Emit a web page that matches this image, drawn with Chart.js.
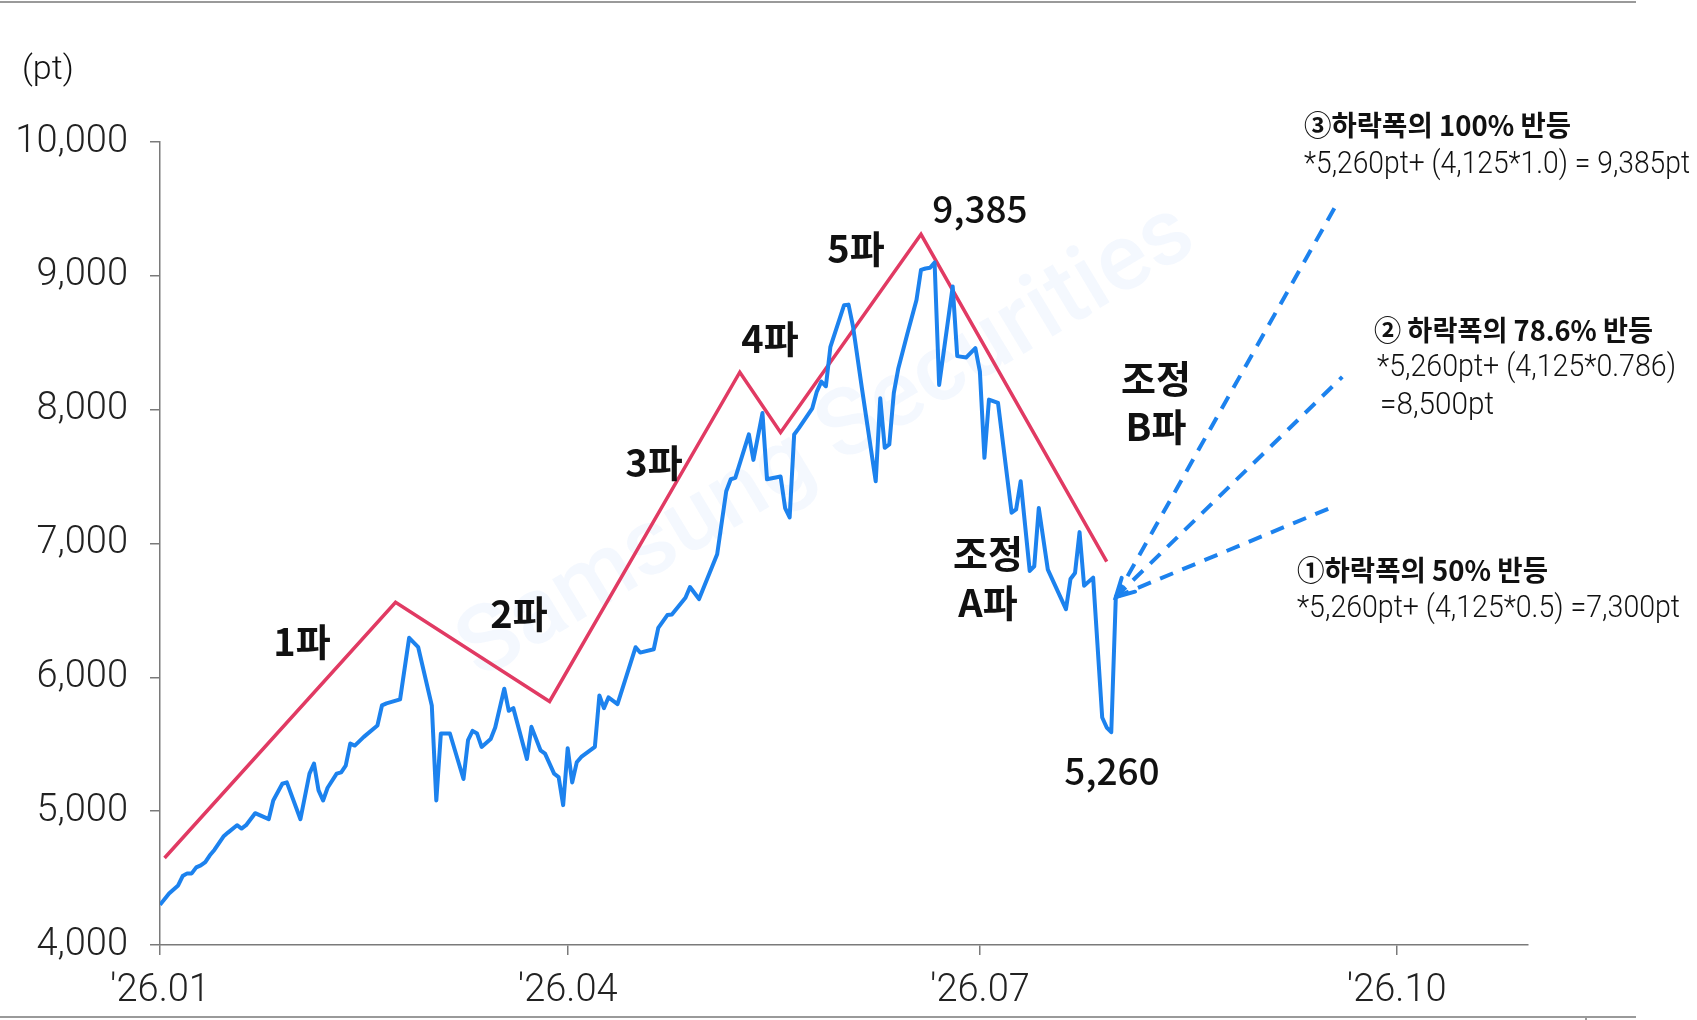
<!DOCTYPE html>
<html>
<head>
<meta charset="utf-8">
<script src="https://cdn.jsdelivr.net/npm/chart.js@4.4.1/dist/chart.umd.min.js"></script>
<style>
  html, body { margin: 0; padding: 0; background: #fff; }
  #wrap { width: 1697px; height: 1020px; }
</style>
</head>
<body>
<div id="wrap"><canvas id="elliottChart" width="1697" height="1020"></canvas></div>
<script>
// index (pt), daily closes, 2026
const priceDates = [
  '01-01','01-03','01-05','01-06','01-07','01-08','01-09','01-10','01-11','01-12',
  '01-13','01-15','01-16','01-18','01-19','01-20','01-22','01-25','01-26','01-28',
  '01-29','02-01','02-03','02-04','02-05','02-06','02-07','02-09','02-10','02-11',
  '02-12','02-13','02-15','02-18','02-19','02-20','02-23','02-24','02-25','02-27',
  '03-02','03-03','03-04','03-06','03-09','03-10','03-11','03-12','03-13','03-15',
  '03-16','03-18','03-19','03-20','03-23','03-24','03-26','03-27','03-29','03-30',
  '03-31','04-01','04-02','04-03','04-04','04-07','04-08','04-09','04-10','04-12',
  '04-16','04-17','04-20','04-21','04-23','04-24','04-27','04-28','04-30','05-04',
  '05-06','05-07','05-08','05-11','05-12','05-14','05-15','05-18','05-19','05-20',
  '05-21','05-22','05-25','05-26','05-27','05-28','05-29','06-01','06-02','06-03',
  '06-05','06-08','06-09','06-10','06-11','06-12','06-13','06-15','06-17','06-18',
  '06-19','06-20','06-21','06-22','06-25','06-26','06-28','06-30','07-01','07-02',
  '07-03','07-05','07-08','07-09','07-10','07-12','07-13','07-14','07-16','07-20',
  '07-21','07-22','07-23','07-24','07-26','07-28','07-29','07-30','07-31'
];
const priceValues = [
  4300,4385,4445,4515,4535,4535,4580,4595,4620,4670,
  4710,4810,4840,4895,4870,4895,4985,4940,5080,5205,
  5215,4940,5280,5355,5155,5080,5175,5280,5290,5340,
  5505,5490,5555,5640,5790,5805,5835,6065,6295,6225,
  5790,5080,5580,5580,5240,5530,5600,5580,5480,5540,
  5625,5915,5750,5770,5390,5630,5455,5430,5280,5255,
  5045,5470,5215,5365,5405,5480,5865,5770,5850,5800,
  6225,6185,6210,6370,6465,6470,6595,6675,6585,6920,
  7390,7480,7490,7815,7625,7975,7480,7500,7265,7195,
  7815,7860,8010,8135,8210,8175,8470,8780,8785,8620,
  8150,7465,8085,7715,7740,8125,8310,8570,8820,9045,
  9055,9060,9100,8185,8920,8400,8390,8460,8285,7640,
  8075,8050,7230,7255,7465,6795,6830,7265,6805,6510,
  6735,6780,7085,6685,6745,5700,5625,5590,6595
];

// Elliott wave zigzag
const waveDates  = ['01-02','02-22','03-28','05-09','05-18','06-18','07-29'];
const waveValues = [4650, 6560, 5820, 8280, 7830, 9310, 6865];

// B-wave rebound scenarios (50%, 78.6%, 100%)
const reboundFromDate  = '07-31';
const reboundFromValue = 6600;
const reboundToDates   = ['09-17', '09-19', '09-18'];
const reboundToValues  = [7275, 8245, 9550];

const xTickDates  = ['01-01', '04-01', '07-01', '10-01'];
const xTickLabels = ["'26.01", "'26.04", "'26.07", "'26.10"];
const xEndDate    = '10-30';
const yTicks      = [4000, 5000, 6000, 7000, 8000, 9000, 10000];

function dayOf(md) {
  const [m, d] = md.split('-').map(Number);
  return (Date.UTC(2026, m - 1, d) - Date.UTC(2026, 0, 1)) / 86400000;
}

const BLUE = '#1c82ee';
const RED = '#e13a63';
const KR = '"Noto Sans CJK KR", "Noto Sans", sans-serif';
const WAVE_FONT = 'bold 38px ' + KR;
const NUM_FONT = '500 37px ' + KR;

// text placed on the page (pixels)
const notes = [
  { text: '(pt)', x: 22, y: 70, font: '300 34px Roboto', align: 'left' },
  { text: '1파', x: 302, y: 642, font: WAVE_FONT },
  { text: '2파', x: 519, y: 614, font: WAVE_FONT },
  { text: '3파', x: 654, y: 463, font: WAVE_FONT },
  { text: '4파', x: 770, y: 339, font: WAVE_FONT },
  { text: '5파', x: 856, y: 249, font: WAVE_FONT },
  { text: '9,385', x: 980, y: 209, font: NUM_FONT },
  { text: '조정', x: 988, y: 554, font: WAVE_FONT },
  { text: 'A파', x: 988, y: 603, font: WAVE_FONT },
  { text: '조정', x: 1156, y: 379, font: WAVE_FONT },
  { text: 'B파', x: 1156, y: 427, font: WAVE_FONT },
  { text: '5,260', x: 1112, y: 771, font: NUM_FONT },
  { text: '③하락폭의 100% 반등', x: 1304, y: 125, font: 'bold 28px ' + KR, align: 'left', w: 267 },
  { text: '*5,260pt+ (4,125*1.0) = 9,385pt', x: 1304, y: 165, font: '300 31px Roboto', align: 'left', w: 386 },
  { text: '② 하락폭의 78.6% 반등', x: 1374, y: 330, font: 'bold 28px ' + KR, align: 'left', w: 279 },
  { text: '*5,260pt+ (4,125*0.786)', x: 1377, y: 368, font: '300 31px Roboto', align: 'left', w: 299 },
  { text: '=8,500pt', x: 1380, y: 406, font: '300 31px Roboto', align: 'left', w: 114 },
  { text: '①하락폭의 50% 반등', x: 1297, y: 570, font: 'bold 28px ' + KR, align: 'left', w: 251 },
  { text: '*5,260pt+ (4,125*0.5) =7,300pt', x: 1297, y: 609, font: '300 31px Roboto', align: 'left', w: 383 }
];

const framePlugin = {
  id: 'frame',
  beforeDatasetsDraw(chart) {
    const ctx = chart.ctx;
    ctx.save();
    // faint watermark
    ctx.translate(828, 444);
    ctx.rotate(-31 * Math.PI / 180);
    ctx.font = '500 94px Roboto';
    ctx.fillStyle = 'rgba(30, 120, 240, 0.05)';
    ctx.textAlign = 'center';
    ctx.textBaseline = 'middle';
    ctx.fillText('Samsung Securities', 0, 0);
    ctx.restore();
  },
  afterDraw(chart) {
    const ctx = chart.ctx;
    ctx.save();
    ctx.strokeStyle = '#9a9a9a';
    ctx.lineWidth = 2;
    ctx.beginPath();
    ctx.moveTo(0, 2); ctx.lineTo(1636, 2);
    ctx.moveTo(0, 1017); ctx.lineTo(1636, 1017);
    ctx.moveTo(1586, 1017); ctx.lineTo(1586, 1020);
    ctx.stroke();

    notes.forEach(n => {
      ctx.font = n.font;
      ctx.fillStyle = '#111';
      ctx.textAlign = n.align || 'center';
      ctx.textBaseline = 'middle';
      if (n.w) ctx.fillText(n.text, n.x, n.y, n.w);
      else ctx.fillText(n.text, n.x, n.y);
    });

    // arrow head at the start of the middle rebound line
    const pts = chart.getDatasetMeta(3).data;
    const p0 = pts[0], p1 = pts[1];
    const a = Math.atan2(p0.y - p1.y, p0.x - p1.x);
    ctx.strokeStyle = BLUE;
    ctx.lineWidth = 4;
    ctx.lineCap = 'round';
    ctx.beginPath();
    ctx.moveTo(p0.x - 20 * Math.cos(a - 0.5), p0.y - 20 * Math.sin(a - 0.5));
    ctx.lineTo(p0.x, p0.y);
    ctx.lineTo(p0.x - 20 * Math.cos(a + 0.5), p0.y - 20 * Math.sin(a + 0.5));
    ctx.stroke();
    ctx.restore();
  }
};

const reboundSets = reboundToDates.map((d, i) => ({
  data: [
    { x: dayOf(reboundFromDate), y: reboundFromValue },
    { x: dayOf(d), y: reboundToValues[i] }
  ],
  borderColor: BLUE,
  borderWidth: 4,
  borderDash: [14, 10],
  pointRadius: 0
}));

const tickGrid = {
  drawOnChartArea: false,
  drawTicks: true,
  tickLength: 10,
  color: '#7a7a7a',
  lineWidth: 1.5
};

new Chart(document.getElementById('elliottChart'), {
  type: 'line',
  data: {
    datasets: [
      {
        data: priceDates.map((d, i) => ({ x: dayOf(d), y: priceValues[i] })),
        borderColor: BLUE,
        borderWidth: 4,
        borderJoinStyle: 'round',
        pointRadius: 0
      },
      {
        data: waveDates.map((d, i) => ({ x: dayOf(d), y: waveValues[i] })),
        borderColor: RED,
        borderWidth: 3.5,
        pointRadius: 0
      },
      ...reboundSets
    ]
  },
  options: {
    responsive: false,
    animation: false,
    layout: { padding: { top: 142, right: 169, left: 0, bottom: 0 } },
    plugins: { legend: { display: false }, tooltip: { enabled: false } },
    scales: {
      x: {
        type: 'linear',
        min: 0,
        max: dayOf(xEndDate),
        afterBuildTicks: s => { s.ticks = xTickDates.map(d => ({ value: dayOf(d) })); },
        afterFit: s => { s.height = 75; },
        ticks: {
          autoSkip: false,
          maxRotation: 0,
          padding: 14,
          color: '#222',
          font: { family: 'Roboto', weight: '300', size: 38 },
          callback: (v, i) => xTickLabels[i]
        },
        grid: tickGrid,
        border: { display: true, color: '#7a7a7a', width: 1.5 }
      },
      y: {
        min: 4000,
        max: 10000,
        afterBuildTicks: s => { s.ticks = yTicks.map(v => ({ value: v })); },
        afterFit: s => { s.width = 160; },
        ticks: {
          padding: 22,
          color: '#222',
          font: { family: 'Roboto', weight: '300', size: 38 },
          callback: v => v.toLocaleString('en-US')
        },
        grid: tickGrid,
        border: { display: true, color: '#7a7a7a', width: 1.5 }
      }
    }
  },
  plugins: [framePlugin]
});
</script>
</body>
</html>
